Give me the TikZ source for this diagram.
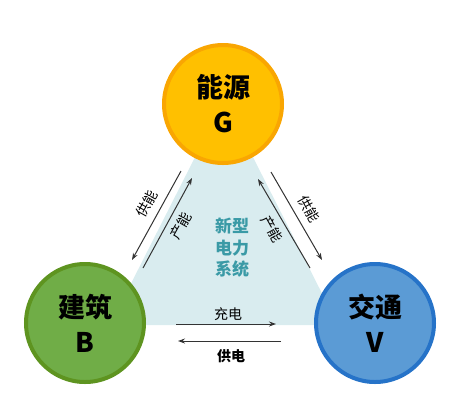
\documentclass[tikz,border=0pt]{standalone}
\usepackage{fontspec}
\setmainfont{Noto Sans CJK SC}
\usetikzlibrary{arrows.meta}
\definecolor{gfill}{HTML}{FFC000}
\definecolor{gline}{HTML}{F9A602}
\definecolor{bfill}{HTML}{70AD47}
\definecolor{bline}{HTML}{5E9420}
\definecolor{vfill}{HTML}{5B9BD5}
\definecolor{vline}{HTML}{2673C8}
\definecolor{trifill}{HTML}{D9ECEF}
\definecolor{teal}{HTML}{3A9AA6}
\definecolor{arr}{HTML}{333333}
\tikzset{
  hub/.style={circle, line width=4pt, minimum size=118pt, inner sep=0pt, align=center,
    font=\fontsize{27}{35}\selectfont\bfseries},
  flow/.style={draw=arr, line width=1pt, -{Stealth[length=7pt,width=5pt]}},
  lbl/.style={font=\fontsize{14}{16}\selectfont, text=black, inner sep=0pt},
}
\begin{document}
\begin{tikzpicture}[x=1pt,y=-1pt]
\useasboundingbox (0,0) rectangle (455,408);
\fill[trifill] (224,100) -- (110,325) -- (338,325) -- cycle;
\node[hub, fill=gfill, draw=gline] (G) at (223,104) {能源\\G};
\node[hub, fill=bfill, draw=bline] (B) at (85,323) {建筑\\B};
\node[hub, fill=vfill, draw=vline] (V) at (375,323) {交通\\V};
\node[align=center, text=teal, inner sep=0pt, font=\fontsize{17}{21.5}\selectfont\bfseries] (sys) at (232,248) {新型\\电力\\系统};
% left pair
\coordinate (lo1) at (181,171); \coordinate (lo2) at (132,260);
\coordinate (li1) at (143,268); \coordinate (li2) at (192,178);
\draw[flow] (lo1) -- (lo2);
\draw[flow] (li1) -- (li2);
\node[lbl, rotate=61] (l1) at (147,204) {供能};
\node[lbl, rotate=61] (l2) at (181,226) {产能};
% right pair
\coordinate (ro1) at (271,172); \coordinate (ro2) at (322,260);
\coordinate (ri1) at (310,268); \coordinate (ri2) at (258,179);
\draw[flow] (ro1) -- (ro2);
\draw[flow] (ri1) -- (ri2);
\node[lbl, rotate=-61] (r1) at (309,209) {供能};
\node[lbl, rotate=-61] (r2) at (272,229) {产能};
% bottom pair
\coordinate (b1) at (176,324); \coordinate (b2) at (276,324);
\coordinate (b3) at (281,341); \coordinate (b4) at (178,341);
\draw[flow] (b1) -- (b2);
\draw[flow] (b3) -- (b4);
\node[lbl] (c1) at (228,314) {充电};
\node[lbl, font=\fontsize{14}{16}\selectfont\bfseries] (c2) at (231,356) {供电};
\end{tikzpicture}
\end{document}
